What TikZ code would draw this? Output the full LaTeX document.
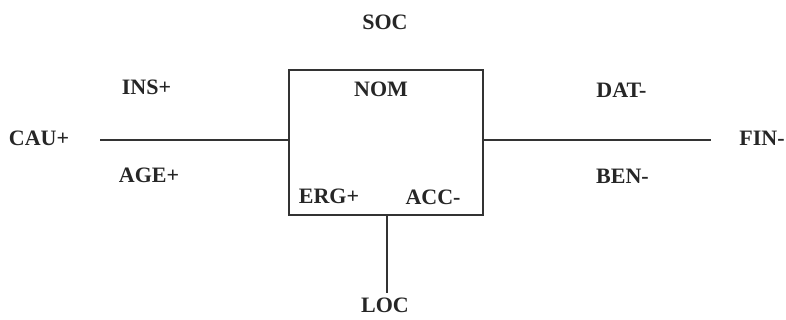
\documentclass[tikz,border=0pt]{standalone}
\usepackage{fontspec}
\setmainfont{Liberation Serif}
\begin{document}
\begin{tikzpicture}[x=0.5pt,y=-0.5pt,
  case/.style={font=\fontsize{11}{13}\selectfont\bfseries, text=black!85, inner sep=0pt},
  link/.style={line width=0.75pt, draw=black!80}]
	\useasboundingbox (0,0) rectangle (786,320);

	\node[draw, link, minimum width=97pt, minimum height=72.5pt, inner sep=0pt] (box) at (386,142.5) {};

	\coordinate (lend) at (100,140);
	\coordinate (rend) at (711,140);
	\coordinate (dend) at (387,293);

	\draw[link] (lend) -- (lend -| box.west);
	\draw[link] (box.east |- rend) -- (rend);
	\draw[link] (box.south -| dend) -- (dend);

	\node[case] (soc) at (385,22) {SOC};
	\node[case] (cau) at (39,138.5) {CAU+};
	\node[case] (ins) at (146.5,87) {INS+};
	\node[case] (age) at (149,175.5) {AGE+};
	\node[case] (nom) at (381,89) {NOM};
	\node[case] (erg) at (329,196) {ERG+};
	\node[case] (acc) at (433,197) {ACC-};
	\node[case] (dat) at (621.5,90) {DAT-};
	\node[case] (ben) at (622.5,176) {BEN-};
	\node[case] (fin) at (762,138.5) {FIN-};
	\node[case] (loc) at (385,305) {LOC};
\end{tikzpicture}
\end{document}
